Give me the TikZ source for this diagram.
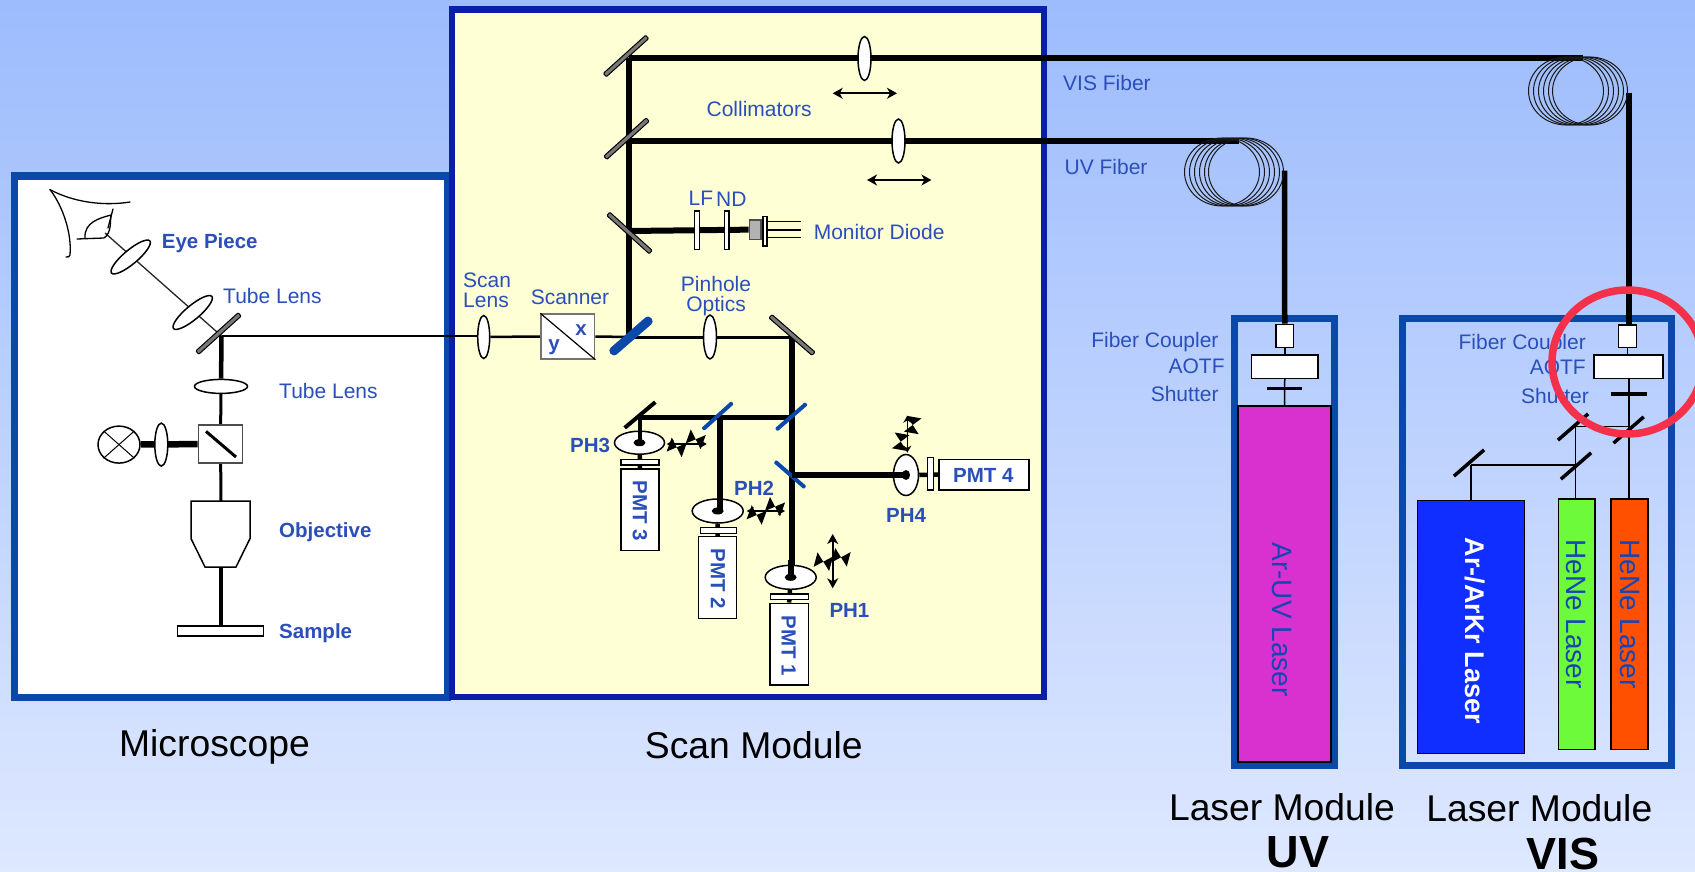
\documentclass[tikz,border=0pt]{standalone}
\usepackage{fontspec}
\setmainfont{Liberation Sans}
\usetikzlibrary{arrows.meta,shapes.geometric}
\pgfdeclarelayer{bg}\pgfdeclarelayer{beams}\pgfsetlayers{bg,beams,main}
\definecolor{bgtop}{HTML}{9DBCFD}
\definecolor{bgbot}{HTML}{DEE8FF}
\definecolor{frameblue}{HTML}{0A48AA}
\definecolor{framedark}{HTML}{0A1EA8}
\definecolor{scanfill}{HTML}{FFFFD5}
\definecolor{lblblue}{HTML}{2A4FBA}
\definecolor{laserlbltext}{HTML}{1845B4}
\definecolor{mirgray}{HTML}{787878}
\definecolor{mirblue}{HTML}{0A48AA}
\definecolor{lasermag}{HTML}{D930D0}
\definecolor{laserblue}{HTML}{0F2EFF}
\definecolor{lasergreen}{HTML}{6DFA3A}
\definecolor{laserorange}{HTML}{FF5000}
\definecolor{redring}{HTML}{F5304A}
\tikzset{
  frameA/.style={draw=frameblue,line width=7pt},
  lbl/.style={text=lblblue,inner sep=0pt,font=\fontsize{21}{24}\selectfont},
  blbl/.style={text=lblblue,inner sep=0pt,font=\fontsize{20.5}{24}\selectfont\bfseries},
  title/.style={text=black,inner sep=0pt,font=\fontsize{37.3}{42}\selectfont},
  btitle/.style={text=black,inner sep=0pt,font=\fontsize{45}{50}\selectfont\bfseries},
  laserlbl/.style={text=laserlbltext,inner sep=0pt,rotate=-90,font=\fontsize{28}{30}\selectfont},
  box/.style={rectangle,draw=black,fill=white,line width=1.5pt,inner sep=0pt},
  lens/.style={ellipse,draw=black,fill=white,line width=1.5pt,inner sep=0pt,minimum width=13pt,minimum height=44pt},
  mirror/.style={rectangle,draw=black,fill=mirgray,line width=1pt,rounded corners=1pt,minimum width=57pt,minimum height=4.5pt,inner sep=0pt},
  bluemir/.style={rectangle,fill=mirblue,rounded corners=1pt,minimum width=40pt,minimum height=4pt,inner sep=0pt},
  blackmir/.style={rectangle,fill=black,minimum width=40pt,minimum height=3.5pt,inner sep=0pt},
  beamA/.style={draw=black,line width=6pt},
  beamB/.style={draw=black,line width=4.5pt},
  beamC/.style={draw=black,line width=3pt},
  thin beam/.style={draw=black,line width=1.5pt},
  disc/.style={ellipse,draw=black,fill=white,line width=1.5pt,inner sep=0pt},
  dbl/.style={draw=black,line width=1.6pt,{Stealth[length=10pt,width=11pt,inset=3pt]}-{Stealth[length=10pt,width=11pt,inset=3pt]}},
  dblS/.style={draw=black,line width=1.5pt,{Stealth[length=7pt,width=8pt]}-{Stealth[length=7pt,width=8pt]}},
  ringline/.style={draw=black!90,line width=1pt},
}
\newcommand\bx[6][]{\node[box,#1,minimum width={(#5-#3)*1pt},minimum height={(#6-#4)*1pt}] (#2) at ({(#3+#5)/2},{(#4+#6)/2}) {};}
\newcommand\btie[3]{\fill[black,shift={(#1,#2)},rotate=#3] (-8,-7.5) -- (8,7.5) -- (8,-7.5) -- (-8,7.5) -- cycle;}
\begin{document}
\begin{tikzpicture}[x=1pt,y=-1pt]
\useasboundingbox (0,0) rectangle (1695,872);
\clip (0,0) rectangle (1695,872);
\begin{pgfonlayer}{bg}
  \shade[top color=bgtop,bottom color=bgbot] (0,0) rectangle (1695,872);
  \draw[frameA,fill=white] (14,176) rectangle (447,697);
  \draw[draw=framedark,line width=6.5pt,fill=scanfill] (452,9.5) rectangle (1044,697);
  \draw[frameA] (1234.5,318) rectangle (1334,765.5);
  \draw[frameA] (1402,318) rectangle (1671,765.5);
\end{pgfonlayer}

% --- Microscope -------------------------------------------------
\draw[line width=1.3pt,line cap=round] (50,189.6) .. controls (75,203) and (105,206) .. (130,202);
\draw[line width=1.3pt,line cap=round] (50,189.6) .. controls (62,205) and (72,232) .. (70,255) .. controls (70,257) and (68,257) .. (66,257);
\draw[line width=1.3pt,line cap=round] (77,239) -- (104,238) .. controls (112,233) and (110,220) .. (111,215) .. controls (100,218) and (84,222) .. (85,238);
\draw[line width=1.3pt,line cap=round] (113,209) -- (108,228);

\node[lens,rotate=40,minimum width=50pt,minimum height=14pt] (eyelens) at (130.7,257) {};
\node[lens,rotate=40,minimum width=50pt,minimum height=14pt] (tube1) at (192.7,312.5) {};
\node[mirror,rotate=42] (mscope) at (218.5,333.5) {};
\coordinate (eyept) at (105,233);
\coordinate (mjunc) at (221.5,336);
\node[lens,minimum width=53pt,minimum height=14pt] (tube2) at (221,386.4) {};
\bx[draw=black!70]{cube}{198.3}{425}{242.7}{463}
\draw[line width=3pt] (206,431.4) -- (236,457);
\node[disc,minimum width=42pt,minimum height=37pt] (lamp) at (119,444.6) {};
\draw[line width=1pt] (lamp.north west) -- (lamp.south east);
\draw[line width=1pt] (lamp.north east) -- (lamp.south west);
\node[lens,minimum width=13pt,minimum height=43pt] (lamplens) at (161.3,444.6) {};
\draw[line width=1.5pt,fill=white] (191,501) -- (250,501) -- (250,538.6) -- (236,567) -- (205,567) -- (191,538.6) -- cycle;
\coordinate (objtop) at (221,501);
\coordinate (objbot) at (221,567);
\bx{sample}{177.7}{626}{263.3}{636}

\begin{pgfonlayer}{beams}
  \draw[line width=1.3pt,black!85] (eyept) -- (mjunc);
  \draw[beamB] (mjunc) -- (tube2);
  \draw[beamC] (tube2) -- (cube);
  \draw[line width=6.5pt] (lamp) -- (cube);
  \draw[beamC] (cube) -- (objtop);
  \draw[beamB] (objbot) -- (objbot |- sample.north);
\end{pgfonlayer}

\node[blbl,anchor=west] (teye) at (161.7,243) {Eye Piece};
\node[lbl,anchor=west] (ttube1) at (223,295.7) {Tube Lens};
\node[lbl,anchor=west] (ttube2) at (279,390.5) {Tube Lens};
\node[blbl,anchor=west] (tobj) at (279,532) {Objective};
\node[blbl,anchor=west] (tsample) at (279,633) {Sample};

% --- Scan module ------------------------------------------------
\coordinate (jvis) at (629,58.5);
\coordinate (juv) at (629,141);
\coordinate (jmon) at (629,231);
\coordinate (jdich) at (629,337);
\coordinate (jm4) at (792,337);
\coordinate (ja) at (792,417.5);
\coordinate (jb) at (720.3,417.5);
\coordinate (jc) at (640,417.5);
\coordinate (jd) at (792,475);

\node[mirror,rotate=42] (m1) at (626,56) {};
\node[mirror,rotate=42] (m2) at (626.5,138.7) {};
\node[mirror,rotate=-42] (m3) at (629.5,233) {};
\node[bluemir,rotate=41,minimum width=54pt,minimum height=9pt,rounded corners=4pt] (dich) at (631,336) {};
\node[mirror,rotate=-41] (m4) at (792,335) {};
\node[bluemir,rotate=41] (ma) at (791.3,416.7) {};
\node[bluemir,rotate=42] (mb) at (717.7,416) {};
\node[blackmir,rotate=40,minimum height=4pt] (mc) at (640,415) {};
\node[bluemir,rotate=-41] (md) at (790,474.5) {};

\node[lens] (lvis) at (864.5,58.5) {};
\node[lens] (luv) at (898.5,141) {};
\node[lens,minimum width=12pt,minimum height=43pt] (lscan) at (483.7,337) {};
\node[lens] (lpin) at (710,337) {};
\draw[dbl] (832.7,93.3) -- (897,93.3);
\draw[dbl] (867,180) -- (931.4,180);

\bx{flf}{694.5}{211}{699.3}{249.3}
\bx{fnd}{724.4}{211}{729}{249.3}
\bx[fill=black!30,draw=black!70]{dbody}{749.3}{220}{760.8}{239.3}
\bx{dflange}{763}{216.7}{767}{246}
\coordinate (d1a) at (767,221.7);\coordinate (d1b) at (801.3,221.7);
\coordinate (d2a) at (767,230);\coordinate (d2b) at (801.3,230);
\coordinate (d3a) at (767,237.7);\coordinate (d3b) at (801.3,237.7);
\draw[line width=1.3pt] (d1a) -- (d1b);
\draw[line width=1.3pt] (d2a) -- (d2b);
\draw[line width=1.3pt] (d3a) -- (d3b);

\bx[draw=black!55]{scanner}{541}{314}{594.7}{359}
\draw[line width=1.2pt] (scanner.north west) -- (scanner.south east);
\node[blbl] (tx) at (581,330) {x};
\node[blbl] (ty) at (554,347.5) {y};

% pinholes
\node[disc,minimum width=50pt,minimum height=23pt] (ph3) at (639.5,442.7) {};
\node[disc,minimum width=51pt,minimum height=24pt] (ph2) at (717.7,511) {};
\node[disc,minimum width=51pt,minimum height=24pt] (ph1) at (790.7,577.3) {};
\node[disc,minimum width=25pt,minimum height=41pt] (ph4) at (906,475) {};

\bx{f3}{621}{459.3}{659}{465}
\bx{f2}{700.7}{527.7}{736.7}{533.3}
\bx{f1}{770.7}{594}{808.3}{599.3}
\bx{f4}{927.7}{457.3}{933.3}{490}
\bx{pmt3}{621}{469}{659}{550.7}
\bx{pmt2}{698.3}{536.7}{736.7}{618.3}
\bx{pmt1}{770}{603.3}{808.3}{685}
\bx{pmt4}{939}{459.3}{1029}{490}

\begin{pgfonlayer}{beams}
  \draw[beamA] (jvis) -- (jdich);
  \draw[beamA] (jvis) -- (1583,58.5);
  \draw[beamA] (juv) -- (1239,141);
  \draw[beamA] (jmon) -- (dbody.west);
  \draw[line width=2.5pt] (scanner.east) -- (jdich);
  \draw[line width=2.5pt] (lscan) -- (scanner.west);
  \draw[line width=2.5pt] (mjunc) -- (mjunc -| lscan.west);
  \draw[beamC] (jdich) -- (jm4);
  \draw[beamA] (jm4) -- (ja);
  \draw[beamA] (ja) -- (jd);
  \draw[beamA] (jd) -- (jd |- ph1);
  \draw[beamB] (ja) -- (jc);
  \draw[beamB] (ph3) -- (pmt3.north);
  \draw[beamB] (ph2) -- (pmt2.north);
  \draw[beamB] (ph1) -- (pmt1.north);
  \draw[beamB] (ph4) -- (pmt4.west);
\end{pgfonlayer}
% beams that reach into the pinholes
\draw[beamB] (jc) -- (jc |- ph3);
\draw[beamA] (jb) -- (jb |- ph2);
\draw[beamA] (ph1.center |- 0,560) -- (ph1.center);
\draw[beamA] (jd) -- (ph4.center);
\fill[black] (ph1.center) ellipse [x radius=6,y radius=3.5];
\fill[black] (ph2.center) ellipse [x radius=6,y radius=3.5];
\fill[black] (ph3.center) ellipse [x radius=6,y radius=3.5];
\fill[black] (ph4.center) ellipse [x radius=4,y radius=5];

\draw[dblS] (666.7,444) -- (706.7,444);
\btie{676.7}{447.3}{-20}\btie{695.7}{439.3}{-20}
\draw[dblS] (746.7,511) -- (785,511);
\btie{756.7}{515}{-20}\btie{775}{506.7}{-20}
\draw[dbl] (832.7,534) -- (832.7,588.3);
\btie{823.3}{561.7}{-15}\btie{841}{557.3}{-15}
\draw[dblS] (907.3,415.7) -- (907.3,452.7);
\btie{900.7}{441.7}{80}\btie{912.7}{425}{80}

\node[lbl,anchor=west] (tcoll) at (706.4,109.3) {Collimators};
\node[lbl,anchor=west] (tlf) at (688.4,198.5) {LF};
\node[lbl,anchor=west] (tnd) at (716,199) {ND};
\node[lbl,anchor=west] (tmon) at (813.6,232) {Monitor Diode};
\node[lbl] (tsc1) at (487,280) {Scan};
\node[lbl] (tsc2) at (486,300) {Lens};
\node[lbl] (tscn) at (570,297.7) {Scanner};
\node[lbl] (tpin1) at (716,283.5) {Pinhole};
\node[lbl] (tpin2) at (716,306.5) {Optics};
\node[blbl,anchor=west] (tph3) at (570,445) {PH3};
\node[blbl,anchor=west] (tph2) at (734,488.3) {PH2};
\node[blbl,anchor=west] (tph1) at (829.3,610) {PH1};
\node[blbl,anchor=west] (tph4) at (886,515) {PH4};
\node[blbl,rotate=-90] (tp3) at (640,511) {PMT 3};
\node[blbl,rotate=-90] (tp2) at (718,579) {PMT 2};
\node[blbl,rotate=-90] (tp1) at (788.7,646) {PMT 1};
\node[blbl] (tp4) at (983.3,475.3) {PMT 4};

% --- Fibers -----------------------------------------------------
\foreach \c in {1566,1571,1576,1581,1586,1590}
  \draw[ringline] (\c,91) ellipse [x radius=37.5,y radius=34];
\foreach \c in {1222,1227,1232,1237,1242,1246}
  \draw[ringline] (\c,172) ellipse [x radius=37.5,y radius=34];
\coordinate (visout) at (1629,92.7);
\coordinate (uvout) at (1284.5,170.7);
\node[lbl,anchor=west] (tvf) at (1063,82.5) {VIS Fiber};
\node[lbl,anchor=west] (tuf) at (1064.4,166.7) {UV Fiber};

% --- UV laser module --------------------------------------------
\bx{cpuv}{1276}{324.3}{1293.5}{347.7}
\bx{aouv}{1251.5}{355}{1318}{378.3}
\node[rectangle,fill=black,minimum width=35.7pt,minimum height=3.2pt,inner sep=0pt] (shuv) at (1284.5,388.3) {};
\node[rectangle,draw=black,fill=lasermag,line width=1.5pt,minimum width=93pt,minimum height=356pt,inner sep=0pt] (uvlaser) at (1284.5,584) {};
\begin{pgfonlayer}{beams}
  \draw[beamA,line width=5.5pt] (uvout) -- (cpuv.north);
  \draw[thin beam] (cpuv.south) -- (aouv.north);
  \draw[thin beam] (aouv.south) -- (uvlaser.north);
\end{pgfonlayer}
\node[laserlbl] (tuv) at (1282,619.5) {Ar-UV Laser};
\node[lbl,anchor=east] (ta1) at (1218.7,342) {Fiber Coupler};
\node[lbl,anchor=east] (ta2) at (1224.8,366) {AOTF};
\node[lbl,anchor=east] (ta3) at (1218.7,394) {Shutter};

% --- VIS laser module -------------------------------------------
\bx{cpvis}{1618.5}{325}{1636.5}{347.7}
\bx{aovis}{1594}{355}{1663}{378.3}
\node[rectangle,fill=black,minimum width=35.7pt,minimum height=3.2pt,inner sep=0pt] (shvis) at (1628.8,394) {};
\node[blackmir,rotate=41] (v1) at (1628.6,430) {};
\node[blackmir,rotate=41] (v2) at (1573,427) {};
\node[blackmir,rotate=41] (v3) at (1576,466) {};
\node[blackmir,rotate=41] (v4) at (1469,463) {};
\bx[fill=laserblue]{lblue}{1417.6}{500.7}{1524.7}{753.3}
\bx[fill=lasergreen]{lgreen}{1558.4}{499}{1595}{749.3}
\bx[fill=laserorange]{lorange}{1611}{499}{1648}{749.3}
\coordinate (jv1) at (1628.8,426.7);
\coordinate (jv2) at (1575.7,426.7);
\coordinate (jv3) at (1575.7,465);
\coordinate (jv4) at (1470.8,465);
\begin{pgfonlayer}{beams}
  \draw[beamA] (visout) -- (visout |- cpvis.north);
  \draw[thin beam] (cpvis.south) -- (cpvis.south |- aovis.north);
  \draw[thin beam] (aovis.south -| jv1) -- (jv1);
  \draw[thin beam] (jv1) -- (jv1 |- lorange.north);
  \draw[thin beam] (jv1) -- (jv2);
  \draw[thin beam] (jv2) -- (jv3);
  \draw[thin beam] (jv3) -- (jv3 |- lgreen.north);
  \draw[thin beam] (jv3) -- (jv4);
  \draw[thin beam] (jv4) -- (jv4 |- lblue.north);
\end{pgfonlayer}
\node[laserlbl,text=white,font=\fontsize{27}{30}\selectfont\bfseries] (tar) at (1475,631) {Ar-/ArKr Laser};
\node[laserlbl] (tg) at (1575.8,614) {HeNe Laser};
\node[laserlbl] (to) at (1629.7,614) {HeNe Laser};
\node[lbl,anchor=east] (tb1) at (1586,344) {Fiber Coupler};
\node[lbl,anchor=east] (tb2) at (1586,367.3) {AOTF};
\node[lbl,anchor=east] (tb3) at (1589,396) {Shutter};

% --- Titles -----------------------------------------------------
\node[title] (tmic) at (214.5,747) {Microscope};
\node[title] (tscanm) at (753.8,745) {Scan Module};
\node[title] (tlu) at (1282,806.7) {Laser Module};
\node[title] (tlv) at (1539.3,808) {Laser Module};
\node[btitle] (tuvb) at (1298,852) {UV};
\node[btitle] (tvisb) at (1563,854) {VIS};

% --- Red marker -------------------------------------------------
\draw[draw=redring,line width=7.5pt] (1627.5,362) ellipse [x radius=75.5,y radius=72];
\end{tikzpicture}
\end{document}
